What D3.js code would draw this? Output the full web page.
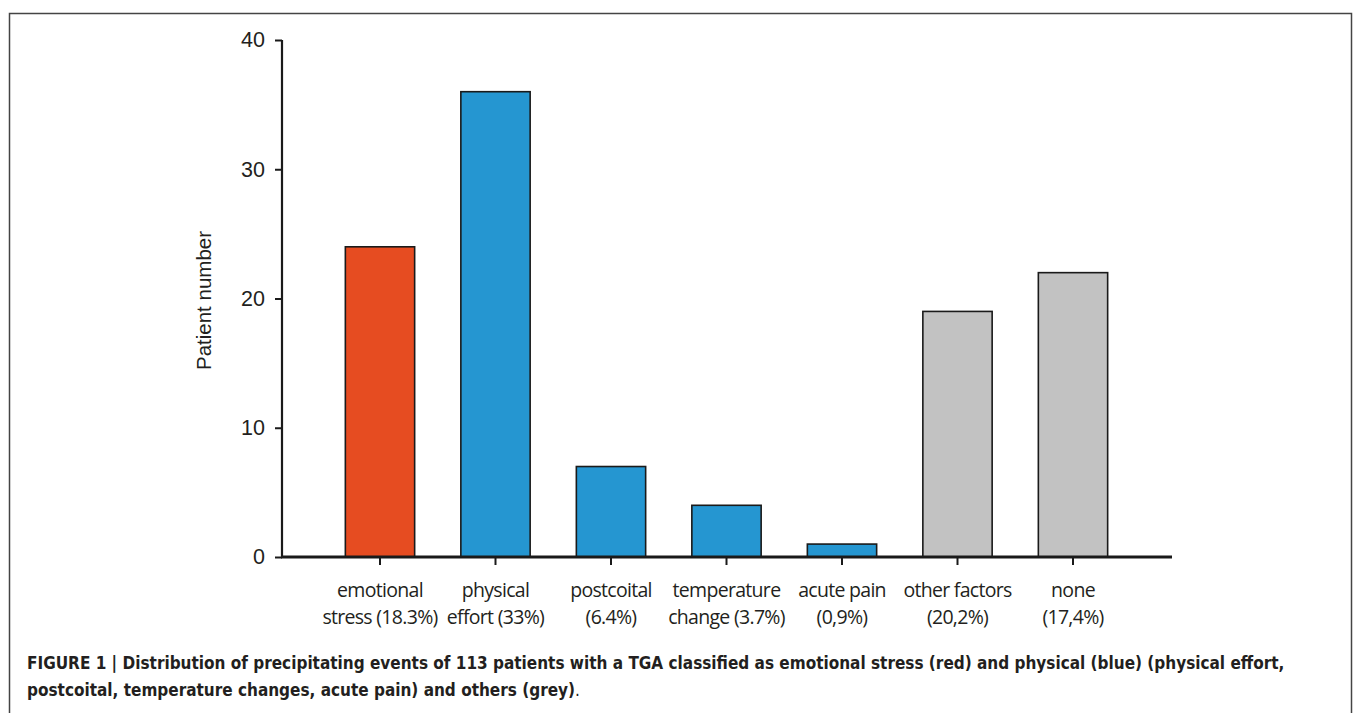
<!DOCTYPE html>
<html>
<head>
<meta charset="utf-8">
<script src="https://cdn.jsdelivr.net/npm/d3@7"></script>
<style>
  body { margin: 0; background: #fff; }
  svg text { fill: #231f20; }
</style>
</head>
<body>
<script>
// precipitating events of 113 TGA patients
const categories = ["emotional stress", "physical effort", "postcoital", "temperature change", "acute pain", "other factors", "none"];
const labelLine1 = ["emotional", "physical", "postcoital", "temperature", "acute pain", "other factors", "none"];
const labelLine2 = ["stress (18.3%)", "effort (33%)", "(6.4%)", "change (3.7%)", "(0,9%)", "(20,2%)", "(17,4%)"];
const counts = [24, 36, 7, 4, 1, 19, 22];
const groups = ["stress", "physical", "physical", "physical", "physical", "other", "other"];
const yTicks = [0, 10, 20, 30, 40];

const colors = { stress: "#e64c21", physical: "#2596d1", other: "#c2c2c2" };

const W = 1355, H = 713;

const svg = d3.select("body").append("svg")
    .attr("width", W)
    .attr("height", H);

// figure frame
svg.append("rect")
    .attr("x", 9.5).attr("y", 13.5)
    .attr("width", 1342).attr("height", 720)
    .attr("fill", "none")
    .attr("stroke", "#444")
    .attr("stroke-width", 1.5);

const x = d3.scaleBand()
    .domain(categories)
    .range([322.25, 1130.75])
    .paddingInner(0.4)
    .paddingOuter(0.2);

const y = d3.scaleLinear()
    .domain([0, 40])
    .range([557, 40]);

// bars
svg.selectAll(".bar")
    .data(categories)
    .enter()
    .append("rect")
    .attr("class", "bar")
    .attr("x", d => x(d))
    .attr("width", x.bandwidth())
    .attr("y", (d, i) => y(counts[i]))
    .attr("height", (d, i) => y(0) - y(counts[i]))
    .attr("fill", (d, i) => colors[groups[i]])
    .attr("stroke", "#1a1a1a")
    .attr("stroke-width", 1.6);

// y axis
const yAxis = d3.axisLeft(y)
    .tickValues(yTicks)
    .tickSize(7)
    .tickPadding(10);

const gy = svg.append("g")
    .attr("transform", "translate(282,0)")
    .call(yAxis);
gy.select(".domain").remove();
gy.append("line")
    .attr("x1", 0).attr("x2", 0)
    .attr("y1", y(40)).attr("y2", y(0))
    .attr("stroke", "#1a1a1a")
    .attr("stroke-width", 2.2);
gy.selectAll(".tick line").attr("stroke", "#1a1a1a").attr("stroke-width", 2);
gy.selectAll(".tick text")
    .style("font-family", "'Liberation Sans', Arial, sans-serif")
    .style("font-size", "21.5px")
    .attr("fill", "#231f20");

// x axis
const xAxis = d3.axisBottom(x)
    .tickSize(8)
    .tickFormat("");

const gx = svg.append("g")
    .attr("transform", "translate(0," + y(0) + ")")
    .call(xAxis);
gx.select(".domain").remove();
gx.selectAll(".tick line").attr("stroke", "#1a1a1a").attr("stroke-width", 2);
svg.append("line")
    .attr("x1", 281).attr("x2", 1172)
    .attr("y1", y(0)).attr("y2", y(0))
    .attr("stroke", "#1a1a1a")
    .attr("stroke-width", 3);

const labels = svg.selectAll(".xlab")
    .data(categories)
    .enter()
    .append("text")
    .attr("class", "xlab")
    .attr("text-anchor", "middle")
    .style("font-family", "'Open Sans', 'Noto Sans', sans-serif")
    .style("font-size", "19.5px")
    .style("letter-spacing", "-0.7px");
labels.append("tspan")
    .attr("x", d => x(d) + x.bandwidth() / 2)
    .attr("y", 597)
    .text((d, i) => labelLine1[i]);
labels.append("tspan")
    .attr("x", d => x(d) + x.bandwidth() / 2)
    .attr("y", 624)
    .text((d, i) => labelLine2[i]);

// y axis title
svg.append("text")
    .attr("transform", "translate(211," + ((y(0) + y(40)) / 2 + 2) + ") rotate(-90)")
    .attr("text-anchor", "middle")
    .style("font-family", "'Liberation Sans', Arial, sans-serif")
    .style("font-size", "20.5px")
    .text("Patient number");

// caption
const cap = svg.append("text")
    .style("font-family", "'Liberation Sans Narrow', 'DejaVu Sans Condensed', Arial, sans-serif")
    .style("font-size", "17px")
    .style("font-weight", "bold");
cap.append("tspan")
    .attr("x", 27).attr("y", 669)
    .text("FIGURE 1 | Distribution of precipitating events of 113 patients with a TGA classified as emotional stress (red) and physical (blue) (physical effort,");
cap.append("tspan")
    .attr("x", 27).attr("y", 696)
    .text("postcoital, temperature changes, acute pain) and others (grey)");
cap.append("tspan")
    .style("font-weight", "normal")
    .text(".");
</script>
</body>
</html>
